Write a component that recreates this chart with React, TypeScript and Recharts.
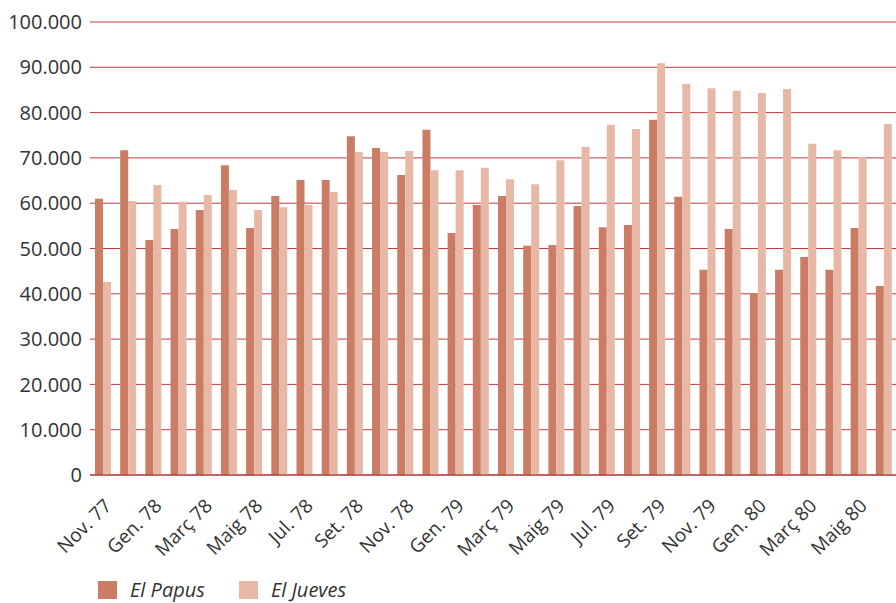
import React from "react";
import { BarChart, Bar, XAxis, YAxis, CartesianGrid, Legend } from "recharts";

const months = [
  "Nov. 77", "Des. 77", "Gen. 78", "Febr. 78", "Març 78", "Abr. 78", "Maig 78", "Juny 78",
  "Jul. 78", "Ag. 78", "Set. 78", "Oct. 78", "Nov. 78", "Des. 78", "Gen. 79", "Febr. 79",
  "Març 79", "Abr. 79", "Maig 79", "Juny 79", "Jul. 79", "Ag. 79", "Set. 79", "Oct. 79",
  "Nov. 79", "Des. 79", "Gen. 80", "Febr. 80", "Març 80", "Abr. 80", "Maig 80", "Juny 80",
];

const elPapus = [
  61000, 71700, 51900, 54300, 58500, 68400, 54500, 61600,
  65100, 65100, 74800, 72200, 66200, 76200, 53400, 59600,
  61600, 50600, 50800, 59400, 54700, 55200, 78400, 61400,
  45300, 54300, 40200, 45300, 48100, 45300, 54500, 41700,
];

const elJueves = [
  42600, 60500, 64000, 60300, 61800, 62900, 58500, 59100,
  59600, 62500, 71300, 71300, 71500, 67300, 67300, 67800,
  65300, 64200, 69500, 72400, 77300, 76400, 90900, 86300,
  85400, 84800, 84300, 85200, 73100, 71700, 70200, 77500,
];

const yTicks = [0, 10000, 20000, 30000, 40000, 50000, 60000, 70000, 80000, 90000, 100000];

const PAPUS = "#cb7c65";
const JUEVES = "#e6b8a5";
const FONT = "'Open Sans', 'Noto Sans', sans-serif";

const data = months.map((m, i) => ({ month: m, papus: elPapus[i], jueves: elJueves[i] }));

const fmt = (v: number) => (v === 0 ? "0" : `${v / 1000}.000`);

// rotated month label, anchored at its end
const MonthTick = ({ x, y, payload }: any) => (
  <g transform={`translate(${x + 10},${y + 24})`}>
    <text transform="rotate(-45)" textAnchor="end" fill="#333" fontSize={19} fontFamily={FONT}>
      {payload.value}
    </text>
  </g>
);

const LegendContent = () => (
  <div style={{ display: "flex", alignItems: "center", paddingLeft: 98, paddingTop: 15, fontFamily: FONT }}>
    {[
      { name: "El Papus", color: PAPUS },
      { name: "El Jueves", color: JUEVES },
    ].map((it) => (
      <div key={it.name} style={{ display: "flex", alignItems: "center", marginRight: 34 }}>
        <div style={{ width: 19, height: 18, background: it.color, marginRight: 13 }} />
        <span style={{ fontStyle: "italic", fontSize: 20, lineHeight: "20px", color: "#333" }}>{it.name}</span>
      </div>
    ))}
  </div>
);

export default function App() {
  return (
    <div style={{ position: "absolute", left: 0, top: 0, width: 896, height: 603, background: "#fff" }}>
      <BarChart
        width={896}
        height={603}
        data={data}
        margin={{ top: 22, right: 0, left: 0, bottom: 0 }}
        barGap={0}
        barSize={8}
      >
        <CartesianGrid vertical={false} stroke="#c0393f" strokeWidth={1} />
        <XAxis
          dataKey="month"
          interval={1}
          height={90}
          tickLine={false}
          axisLine={{ stroke: "#a52a2a" }}
          tick={<MonthTick />}
        />
        <YAxis
          width={90}
          domain={[0, 100000]}
          ticks={yTicks}
          tickFormatter={fmt}
          axisLine={false}
          tickLine={false}
          tickSize={0}
          tickMargin={8}
          tick={{ fill: "#333", fontSize: 20, fontFamily: FONT }}
        />
        <Legend verticalAlign="bottom" height={38} content={<LegendContent />} />
        <Bar dataKey="papus" name="El Papus" fill={PAPUS} isAnimationActive={false} />
        <Bar dataKey="jueves" name="El Jueves" fill={JUEVES} isAnimationActive={false} />
      </BarChart>
    </div>
  );
}
